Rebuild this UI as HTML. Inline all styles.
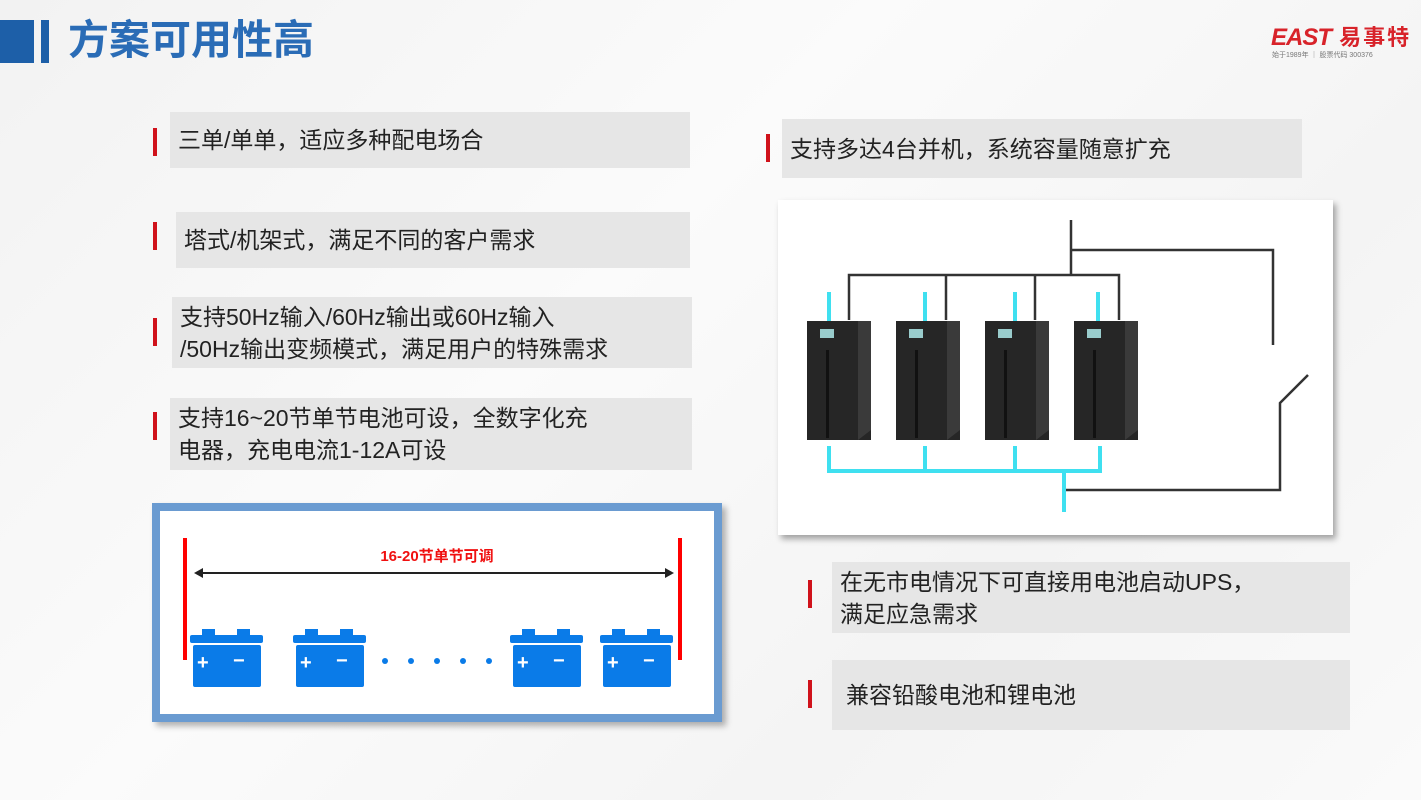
<!DOCTYPE html>
<html><head><meta charset="utf-8"><style>
*{margin:0;padding:0;box-sizing:border-box}
body{width:1421px;height:800px;overflow:hidden;background:linear-gradient(135deg,#f2f2f2 0%,#fbfbfb 40%,#f4f4f4 70%,#fafafa 100%);position:relative;font-family:"Liberation Sans","Noto Sans CJK SC",sans-serif}
.abs{position:absolute}
.box{position:absolute;background:#e6e6e6;color:#222;font-size:23px;line-height:32px;padding-left:8px;display:flex;align-items:center}
.rb{position:absolute;width:4px;background:#d0121b}
</style></head><body>
<div class="abs" style="left:0;top:20px;width:34px;height:43px;background:#1d5fa8"></div>
<div class="abs" style="left:41px;top:20px;width:8px;height:43px;background:#1d5fa8"></div>
<div class="abs" style="left:68px;top:14px;font-size:41px;font-weight:bold;color:#2a6cb6;line-height:52px">方案可用性高</div>
<div class="abs" style="left:1271px;top:20px;font-size:24px;font-weight:bold;font-style:italic;color:#d8232a;letter-spacing:-1px">EAST<span style="font-size:22px;font-style:normal;letter-spacing:2px"> 易事特</span></div>
<div class="abs" style="left:1272px;top:50px;font-size:7px;color:#777">始于1989年 ｜ 股票代码 300376</div>

<div class="rb" style="left:153px;top:128px;height:28px"></div>
<div class="box" style="left:170px;top:112px;width:520px;height:56px">三单/单单，适应多种配电场合</div>
<div class="rb" style="left:153px;top:222px;height:28px"></div>
<div class="box" style="left:176px;top:212px;width:514px;height:56px">塔式/机架式，满足不同的客户需求</div>
<div class="rb" style="left:153px;top:318px;height:28px"></div>
<div class="box" style="left:172px;top:297px;width:520px;height:71px">支持50Hz输入/60Hz输出或60Hz输入<br>/50Hz输出变频模式，满足用户的特殊需求</div>
<div class="rb" style="left:153px;top:412px;height:28px"></div>
<div class="box" style="left:170px;top:398px;width:522px;height:72px">支持16~20节单节电池可设，全数字化充<br>电器，充电电流1-12A可设</div>

<div class="abs" style="left:152px;top:503px;width:570px;height:219px;border:8px solid #6a9bd1;background:#fff;box-shadow:4px 4px 6px rgba(0,0,0,.3)"></div>
<svg class="abs" style="left:0;top:0" width="1421" height="800">
<line x1="185" y1="538" x2="185" y2="660" stroke="#f00" stroke-width="4"/>
<line x1="680" y1="538" x2="680" y2="660" stroke="#f00" stroke-width="4"/>
<line x1="200" y1="573" x2="667" y2="573" stroke="#222" stroke-width="2"/>
<polygon points="194,573 203,568 203,578" fill="#222"/><polygon points="674,573 665,568 665,578" fill="#222"/>
<text x="437" y="561" font-size="15" font-weight="bold" fill="#f01010" text-anchor="middle" font-family="Liberation Sans,Noto Sans CJK SC,sans-serif">16-20节单节可调</text>
<g fill="#0a7be8">
<g id="bt"><rect x="202" y="629" width="13" height="8"/><rect x="237" y="629" width="13" height="8"/><rect x="190" y="635" width="73" height="8" rx="2"/><rect x="193" y="645" width="68" height="42" rx="2"/></g>
<use href="#bt" x="103"/><use href="#bt" x="320"/><use href="#bt" x="410"/>
<circle cx="385" cy="661" r="3"/><circle cx="411" cy="661" r="3"/><circle cx="437" cy="661" r="3"/><circle cx="463" cy="661" r="3"/><circle cx="489" cy="661" r="3"/>
</g>
<g fill="#fff" font-size="20" font-weight="bold" font-family="Liberation Sans,sans-serif">
<text x="197" y="669">+</text><text x="233" y="667">−</text>
<text x="300" y="669">+</text><text x="336" y="667">−</text>
<text x="517" y="669">+</text><text x="553" y="667">−</text>
<text x="607" y="669">+</text><text x="643" y="667">−</text>
</g>
</svg>

<div class="rb" style="left:766px;top:134px;height:28px"></div>
<div class="box" style="left:782px;top:119px;width:520px;height:59px">支持多达4台并机，系统容量随意扩充</div>

<div class="abs" style="left:778px;top:200px;width:555px;height:335px;background:#fff;box-shadow:3px 4px 6px rgba(0,0,0,.35)"></div>
<svg class="abs" style="left:0;top:0" width="1421" height="800">
<g stroke="#333" stroke-width="2.5" fill="none">
<polyline points="1071,220 1071,275"/>
<polyline points="1071,250 1273,250 1273,345"/>
<polyline points="849,320 849,275 1119,275 1119,320"/>
<line x1="946" y1="275" x2="946" y2="320"/><line x1="1035" y1="275" x2="1035" y2="320"/>
<polyline points="1064,490 1280,490 1280,403 1308,375"/>
</g>
<g stroke="#3fe0f0" stroke-width="4" fill="none">
<line x1="829" y1="292" x2="829" y2="322"/><line x1="925" y1="292" x2="925" y2="322"/><line x1="1015" y1="292" x2="1015" y2="322"/><line x1="1098" y1="292" x2="1098" y2="322"/>
<polyline points="829,446 829,471 1100,471 1100,446"/><line x1="925" y1="446" x2="925" y2="471"/><line x1="1015" y1="446" x2="1015" y2="471"/>
<line x1="1064" y1="471" x2="1064" y2="512"/>
</g>
<g id="ups">
<rect x="807" y="321" width="64" height="119" fill="#262626"/>
<polygon points="858,321 871,321 871,430 858,440" fill="#3a3a3a"/>
<rect x="820" y="329" width="14" height="9" fill="#9cc"/>
<rect x="826" y="350" width="3" height="88" fill="#111"/>
</g>
<use href="#ups" x="89"/><use href="#ups" x="178"/><use href="#ups" x="267"/>
</svg>

<div class="rb" style="left:808px;top:580px;height:28px"></div>
<div class="box" style="left:832px;top:562px;width:518px;height:71px">在无市电情况下可直接用电池启动UPS，<br>满足应急需求</div>
<div class="rb" style="left:808px;top:680px;height:28px"></div>
<div class="box" style="left:832px;top:660px;width:518px;height:70px;padding-left:14px">兼容铅酸电池和锂电池</div>
</body></html>
